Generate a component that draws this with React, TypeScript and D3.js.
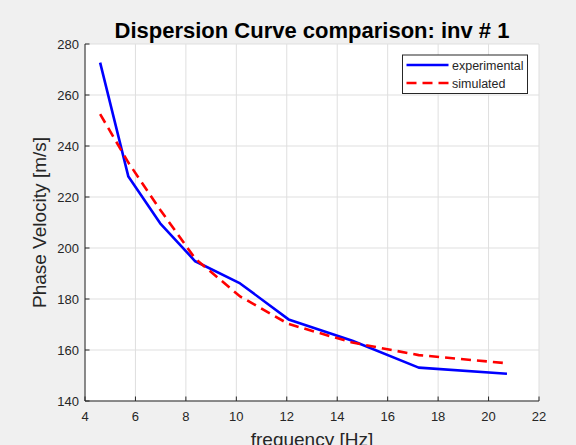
import React from "react";
import * as d3 from "d3";

const freqExp = [4.6, 5.72, 6.98, 8.37, 10.15, 12.07, 14.6, 17.23, 20.73];
const velExp = [272.7, 228, 209.7, 194.8, 186.1, 172, 163.6, 153.1, 150.7];
const freqSim = [4.6, 5.72, 6.98, 8.37, 10.15, 12.07, 14.6, 17.23, 20.73];
const velSim = [252.5, 233.5, 215, 195.8, 181, 170.2, 162.9, 158, 154.8];
const xTicks = [4, 6, 8, 10, 12, 14, 16, 18, 20, 22];
const yTicks = [140, 160, 180, 200, 220, 240, 260, 280];
const seriesNames = ["experimental", "simulated"];

const W = 576;
const H = 445;
const L = 85, R = 539, T = 44, B = 401;
const AX = "#262626";
const FONT = "Liberation Sans, Arial, Helvetica, sans-serif";

export default function App() {
  const x = d3.scaleLinear().domain([4, 22]).range([L, R]);
  const y = d3.scaleLinear().domain([140, 280]).range([B, T]);
  const line = d3.line<[number, number]>().x((d) => x(d[0])).y((d) => y(d[1]));
  const expPts = freqExp.map((f, i) => [f, velExp[i]] as [number, number]);
  const simPts = freqSim.map((f, i) => [f, velSim[i]] as [number, number]);

  return (
    <div style={{ position: "fixed", left: 0, top: 0 }}>
      <svg width={W} height={H} style={{ display: "block" }} fontFamily={FONT}>
        <rect x={0} y={0} width={W} height={H} fill="#f0f0f0" />
        <rect x={L} y={T} width={R - L} height={B - T} fill="#ffffff" />
        {xTicks.map((t) => (
          <line key={"gx" + t} x1={x(t)} x2={x(t)} y1={T} y2={B} stroke="#dfdfdf" strokeWidth={1} />
        ))}
        {yTicks.map((t) => (
          <line key={"gy" + t} x1={L} x2={R} y1={y(t)} y2={y(t)} stroke="#dfdfdf" strokeWidth={1} />
        ))}
        {/* axes */}
        <line x1={L} x2={R} y1={B} y2={B} stroke={AX} strokeWidth={1} />
        <line x1={L} x2={L} y1={T} y2={B} stroke={AX} strokeWidth={1} />
        {xTicks.map((t) => (
          <g key={"tx" + t}>
            <line x1={x(t)} x2={x(t)} y1={B} y2={B - 4.5} stroke={AX} strokeWidth={1} />
            <text x={x(t)} y={421} textAnchor="middle" fontSize={13} fill={AX}>
              {t}
            </text>
          </g>
        ))}
        {yTicks.map((t) => (
          <g key={"ty" + t}>
            <line x1={L} x2={L + 4.5} y1={y(t)} y2={y(t)} stroke={AX} strokeWidth={1} />
            <text x={79} y={y(t) + 4.6} textAnchor="end" fontSize={13} fill={AX}>
              {t}
            </text>
          </g>
        ))}
        {/* data */}
        <path d={line(expPts) || ""} fill="none" stroke="#0000ff" strokeWidth={2.6} strokeLinejoin="round" />
        <path d={line(simPts) || ""} fill="none" stroke="#ff0000" strokeWidth={2.6} strokeDasharray="10,6" />
        {/* title */}
        <text x={(L + R) / 2} y={38} textAnchor="middle" fontSize={22} fontWeight="bold" fill="#000">
          Dispersion Curve comparison: inv # 1
        </text>
        {/* axis labels */}
        <text x={(L + R) / 2} y={446} textAnchor="middle" fontSize={19} fill={AX}>
          frequency [Hz]
        </text>
        <text
          transform={`translate(46, ${(T + B) / 2}) rotate(-90)`}
          textAnchor="middle"
          fontSize={19}
          fill={AX}
        >
          Phase Velocity [m/s]
        </text>
        {/* legend */}
        <rect x={402.5} y={55} width={125} height={38.5} fill="#ffffff" stroke={AX} strokeWidth={1} />
        <line x1={406.5} x2={448.5} y1={65} y2={65} stroke="#0000ff" strokeWidth={2.6} />
        <line x1={406.5} x2={448.5} y1={83} y2={83} stroke="#ff0000" strokeWidth={2.6} strokeDasharray="10,6" />
        <text x={452} y={69.5} fontSize={12.5} fill={AX}>
          {seriesNames[0]}
        </text>
        <text x={452} y={87.5} fontSize={12.5} fill={AX}>
          {seriesNames[1]}
        </text>
      </svg>
    </div>
  );
}
